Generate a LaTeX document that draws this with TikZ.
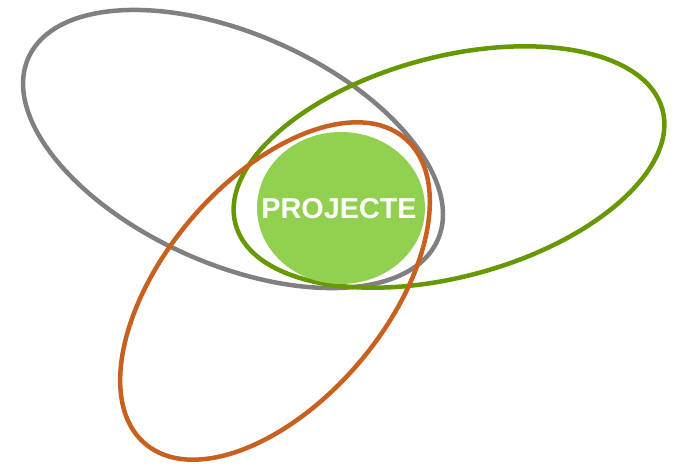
\documentclass[tikz,border=0pt]{standalone}
\usepackage{fontspec}
\setmainfont{Liberation Sans}
\usepackage{tikz}
\usetikzlibrary{shapes.geometric}
\usepackage{xcolor}
\definecolor{ringgray}{RGB}{128,128,128}
\definecolor{ringgreen}{RGB}{102,153,0}
\definecolor{ringorange}{RGB}{200,96,32}
\definecolor{corefill}{RGB}{146,208,80}

\begin{document}
\begin{tikzpicture}[x=1pt,y=1pt, ring/.style={line width=4.5pt}]
\useasboundingbox (0,0) rectangle (676,464);

\draw[ring, ringgray, rotate around={-24:(233,315)}] (233,315) ellipse (224 and 115);
\draw[ring, ringgreen, rotate around={15:(449,297)}] (449,297) ellipse (221 and 110);
\draw[ring, ringorange, rotate around={49.6:(275,173)}] (275,173) ellipse (200.5 and 110.5);

\fill[corefill] (341,256) ellipse (84 and 76);
\node[text=white, font=\bfseries\fontsize{28.8}{30}\selectfont, inner sep=0pt] (core) at (339,255.3) {PROJECTE};

\end{tikzpicture}
\end{document}
